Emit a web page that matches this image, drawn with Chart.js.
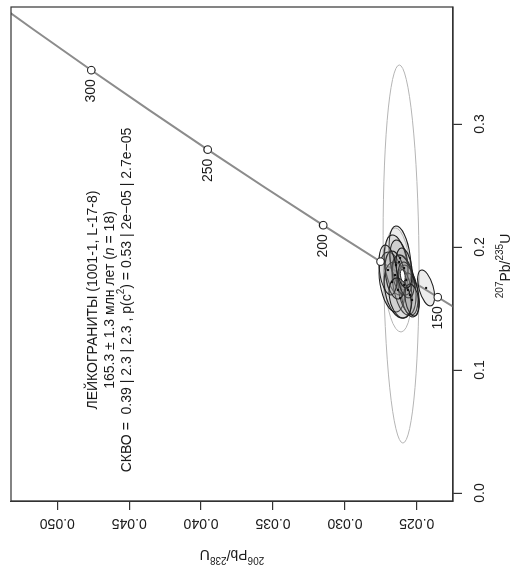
<!DOCTYPE html>
<html>
<head>
<meta charset="utf-8">
<script src="https://cdn.jsdelivr.net/npm/chart.js@4.4.0/dist/chart.umd.min.js"></script>
<style>
    html, body { margin: 0; padding: 0; background: #fff; overflow: hidden; }
    /* график строится "лёжа" и поворачивается на 90° против часовой */
    #wrap { position: absolute; left: 0; top: 0; width: 573px; height: 515px;
            transform-origin: 0 0; transform: translateY(573px) rotate(-90deg); }
</style>
</head>
<body>
<div id="wrap"><canvas id="concordiaChart" width="573" height="515"></canvas></div>
<script>
// конкордия: возраст (млн лет), 207Pb/235U, 206Pb/238U
const concAges = [140, 150, 175, 200, 225, 250, 275, 300, 325, 350];
const concX = [0.14784, 0.159197, 0.188092, 0.217708, 0.248061, 0.279171, 0.311057, 0.343738, 0.377232, 0.411562];
const concY = [0.021955, 0.023542, 0.027519, 0.031511, 0.035519, 0.039543, 0.043582, 0.047637, 0.051709, 0.055795];

// отметки возраста на конкордии
const markX = [0.159197, 0.188092, 0.217708, 0.279171, 0.343738];
const markY = [0.023542, 0.027519, 0.031511, 0.039543, 0.047637];
const markLabels = ['150', '', '200', '250', '300'];

// эллипсы анализов (центр, полуоси, корреляция)
const ellX   = [0.1943, 0.1732, 0.1911, 0.1854, 0.1715, 0.1878, 0.1691, 0.1650, 0.1610, 0.1650, 0.1772, 0.1772, 0.1732, 0.1813, 0.1569, 0.1667, 0.1585, 0.1829];
const ellY   = [0.02609, 0.02630, 0.02616, 0.02644, 0.02672, 0.02623, 0.02588, 0.02561, 0.02547, 0.02630, 0.02602, 0.02651, 0.02574, 0.02700, 0.02533, 0.02435, 0.02616, 0.02588];
const ellSx  = [0.1537, 0.0423, 0.0260, 0.0244, 0.0244, 0.0179, 0.0244, 0.0203, 0.0179, 0.0228, 0.0163, 0.0195, 0.0146, 0.0203, 0.0130, 0.0146, 0.0163, 0.0163];
const ellSy  = [0.00125, 0.00097, 0.00077, 0.00083, 0.00090, 0.00063, 0.00083, 0.00070, 0.00063, 0.00097, 0.00070, 0.00070, 0.00056, 0.00063, 0.00049, 0.00059, 0.00077, 0.00056];
const ellRho = [0.1, 0.2, 0.35, 0.3, 0.3, 0.3, 0.35, 0.35, 0.3, 0.3, 0.3, 0.3, 0.3, 0.3, 0.3, 0.5, 0.3, 0.3];
const ellUsed = [false, false, true, true, true, true, true, true, true, true, true, true, true, true, true, true, true, true];

// конкордантный возраст 165.3 млн лет
const ageX = 0.17679, ageY = 0.025974, ageSx = 0.0049, ageSy = 0.00017;

const xTicks = [0, 0.1, 0.2, 0.3];
const xTickLabels = ['0.0', '0.1', '0.2', '0.3'];
const yTicks = [0.025, 0.030, 0.035, 0.040, 0.045, 0.050];
const yTickLabels = ['0.025', '0.030', '0.035', '0.040', '0.045', '0.050'];

const FONT = '"Liberation Sans", Arial, sans-serif';

function fontFor(kind, size) {
    if (kind === 'sup') return Math.round(size * 0.72) + 'px ' + FONT;
    if (kind === 'it') return 'italic ' + size + 'px ' + FONT;
    return size + 'px ' + FONT;
}

function richText(ctx, parts, x, y, align, size) {
    const widths = parts.map(p => { ctx.font = fontFor(p[1], size); return ctx.measureText(p[0]).width; });
    const total = widths.reduce((a, b) => a + b, 0);
    let cx = align === 'center' ? x - total / 2 : (align === 'right' ? x - total : x);
    ctx.textAlign = 'left';
    ctx.textBaseline = 'middle';
    parts.forEach((p, i) => {
        ctx.font = fontFor(p[1], size);
        const dy = p[1] === 'sup' ? -size * 0.4 : 0;
        ctx.fillText(p[0], cx, y + dy);
        cx += widths[i];
    });
}

function drawEllipse(ctx, xs, ys, x, y, sx, sy, rho) {
    const cx = xs.getPixelForValue(x), cy = ys.getPixelForValue(y);
    const a = xs.getPixelForValue(x + sx) - cx;
    const b = ys.getPixelForValue(y + sy) - cy;
    const sxx = a * a, syy = b * b, sxy = rho * a * b;
    const half = (sxx + syy) / 2;
    const d = Math.sqrt(Math.max(0, half * half - (sxx * syy - sxy * sxy)));
    const ang = 0.5 * Math.atan2(2 * sxy, sxx - syy);
    ctx.beginPath();
    ctx.ellipse(cx, cy, Math.sqrt(half + d), Math.sqrt(Math.max(0, half - d)), ang, 0, Math.PI * 2);
}

function drawAllEllipses(chart) {
    const ctx = chart.ctx, xs = chart.scales.x, ys = chart.scales.y, area = chart.chartArea;
    ctx.save();
    ctx.beginPath();
    ctx.rect(area.left, area.top, area.right - area.left, area.bottom - area.top);
    ctx.clip();

    // сначала отбракованные (светлые контуры)
    ellX.forEach((v, i) => {
        if (ellUsed[i]) return;
        drawEllipse(ctx, xs, ys, ellX[i], ellY[i], ellSx[i], ellSy[i], ellRho[i]);
        ctx.strokeStyle = '#b5b5b5';
        ctx.lineWidth = 1;
        ctx.stroke();
    });
    ellX.forEach((v, i) => {
        if (!ellUsed[i]) return;
        drawEllipse(ctx, xs, ys, ellX[i], ellY[i], ellSx[i], ellSy[i], ellRho[i]);
        ctx.fillStyle = 'rgba(150,150,150,0.18)';
        ctx.fill();
        ctx.strokeStyle = '#1e1e1e';
        ctx.lineWidth = 1.1;
        ctx.stroke();
    });
    ctx.fillStyle = '#111';
    ellX.forEach((v, i) => {
        if (!ellUsed[i]) return;
        ctx.beginPath();
        ctx.arc(xs.getPixelForValue(ellX[i]), ys.getPixelForValue(ellY[i]), 1.2, 0, Math.PI * 2);
        ctx.fill();
    });

    // эллипс конкордантного возраста
    drawEllipse(ctx, xs, ys, ageX, ageY, ageSx, ageSy, 0.3);
    ctx.fillStyle = '#fff';
    ctx.fill();
    ctx.strokeStyle = '#222';
    ctx.lineWidth = 1;
    ctx.stroke();
    ctx.restore();
}

const decor = {
    id: 'decor',
    afterDatasetDraw(chart, args) {
        if (args.index === 0) drawAllEllipses(chart);
    },
    afterDraw(chart) {
        const ctx = chart.ctx, xs = chart.scales.x, ys = chart.scales.y, area = chart.chartArea;
        ctx.save();
        ctx.strokeStyle = '#333';
        ctx.lineWidth = 1.2;
        ctx.strokeRect(area.left, area.top, area.right - area.left, area.bottom - area.top);

        ctx.fillStyle = '#1a1a1a';
        ctx.font = fontFor('', 14);
        ctx.textAlign = 'center';
        ctx.textBaseline = 'middle';
        xTicks.forEach((v, i) => ctx.fillText(xTickLabels[i], xs.getPixelForValue(v), area.bottom + 27));
        yTicks.forEach((v, i) => {
            ctx.save();
            ctx.translate(area.left - 22, ys.getPixelForValue(v));
            ctx.rotate(-Math.PI / 2);
            ctx.fillText(yTickLabels[i], 0, 0);
            ctx.restore();
        });

        // подписи возраста у отметок
        ctx.textAlign = 'right';
        markLabels.forEach((t, i) => {
            if (!t) return;
            ctx.fillText(t, xs.getPixelForValue(markX[i]) - 9, ys.getPixelForValue(markY[i]));
        });

        // названия осей
        richText(ctx, [['207', 'sup'], ['Pb', ''], ['/', ''], ['235', 'sup'], ['U', '']], 307, area.bottom + 53, 'center', 14);
        ctx.save();
        ctx.translate(19, (area.top + area.bottom) / 2);
        ctx.rotate(-Math.PI / 2);
        richText(ctx, [['206', 'sup'], ['Pb', ''], ['/', ''], ['238', 'sup'], ['U', '']], 0, 0, 'center', 14);
        ctx.restore();

        // текст результата
        richText(ctx, [['ЛЕЙКОГРАНИТЫ (1001-1, L-17-8)', '']], 273, 93, 'center', 14);
        richText(ctx, [['165.3 ± 1.3 млн лет (', ''], ['n', 'it'], [' = 18)', '']], 273, 110, 'center', 14);
        richText(ctx, [['СКВО =  0.39 | 2.3 | 2.3 , p(c', ''], ['2', 'sup'], [') = 0.53 | 2e−05 | 2.7e−05', '']], 273, 127, 'center', 14);
        ctx.restore();
    }
};

const ctx = document.getElementById('concordiaChart').getContext('2d');

new Chart(ctx, {
    type: 'scatter',
    data: {
        datasets: [
            {
                label: 'concordia',
                data: concX.map((v, i) => ({ x: v, y: concY[i] })),
                showLine: true,
                borderColor: '#8c8c8c',
                borderWidth: 2,
                pointRadius: 0,
                order: 2
            },
            {
                label: 'marks',
                data: markX.map((v, i) => ({ x: v, y: markY[i] })),
                showLine: false,
                pointRadius: 3.8,
                pointBackgroundColor: '#fff',
                pointBorderColor: '#222',
                pointBorderWidth: 1.1,
                order: 1
            }
        ]
    },
    options: {
        responsive: false,
        animation: false,
        layout: { padding: { top: 11, right: 7, left: 0, bottom: 0 } },
        plugins: {
            legend: { display: false },
            tooltip: { enabled: false }
        },
        scales: {
            x: {
                type: 'linear',
                min: -0.0065,
                max: 0.3951,
                afterBuildTicks: (scale) => { scale.ticks = xTicks.map(v => ({ value: v })); },
                afterFit: (scale) => { scale.height = 62; },
                ticks: { display: false },
                grid: { drawOnChartArea: false, drawTicks: true, tickLength: 9, color: '#333', lineWidth: 1.2 },
                border: { display: true, color: '#333', width: 1.2 }
            },
            y: {
                type: 'linear',
                min: 0.02248,
                max: 0.05322,
                afterBuildTicks: (scale) => { scale.ticks = yTicks.map(v => ({ value: v })); },
                afterFit: (scale) => { scale.width = 72; },
                ticks: { display: false },
                grid: { drawOnChartArea: false, drawTicks: true, tickLength: 9, color: '#333', lineWidth: 1.2 },
                border: { display: true, color: '#333', width: 1.2 }
            }
        }
    },
    plugins: [decor]
});
</script>
</body>
</html>
